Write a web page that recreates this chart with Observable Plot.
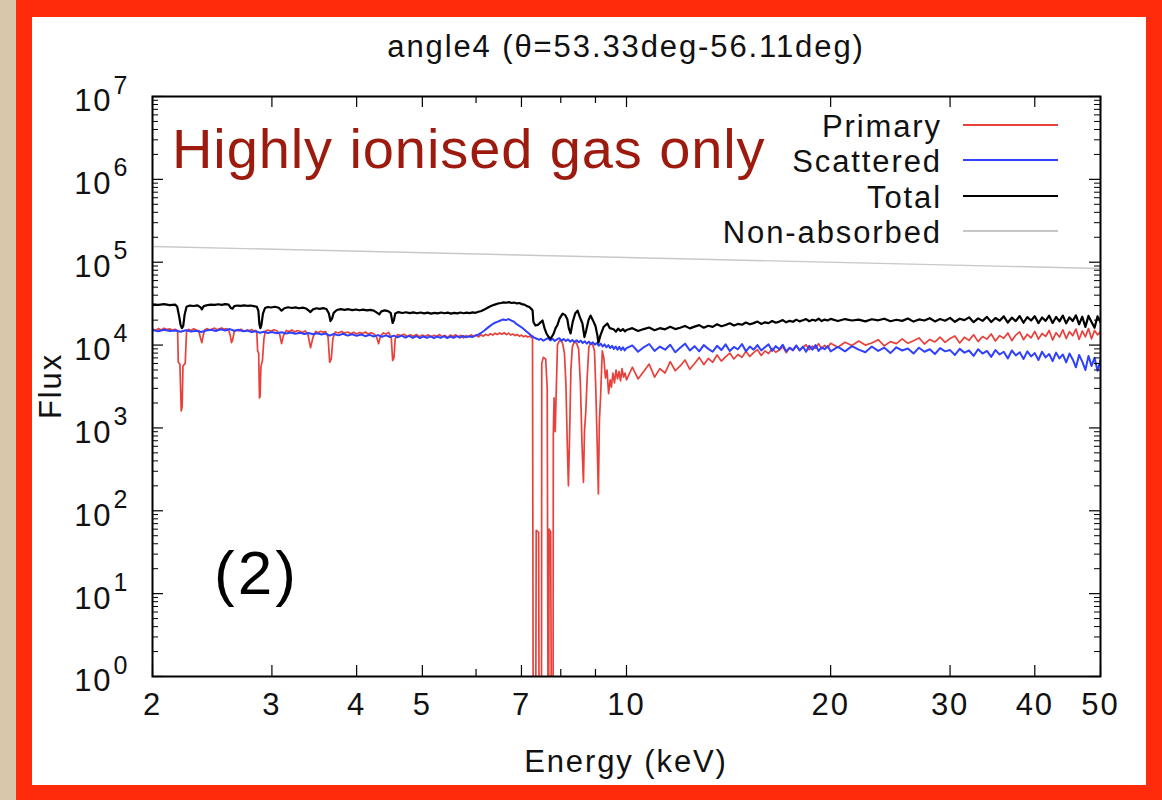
<!DOCTYPE html>
<html>
<head>
<meta charset="utf-8">
<script src="https://cdn.jsdelivr.net/npm/d3@7"></script>
<script src="https://cdn.jsdelivr.net/npm/@observablehq/plot@0.6"></script>
<style>
  html, body { margin: 0; padding: 0; }
  body { width: 1162px; height: 800px; overflow: hidden; background: #d8c7aa; position: relative;
         font-family: "Liberation Sans", Arial, Helvetica, sans-serif; }
  #frame { position: absolute; left: 16px; top: 0; width: 1146px; height: 800px; background: #ff2b0a; }
  #panel { position: absolute; left: 32px; top: 17px; width: 1114px; height: 768px; background: #ffffff; }
  #panel svg text { letter-spacing: 1.9px; }
  #overlay { position: absolute; left: 0; top: 0; pointer-events: none; }
  #overlay text.g { letter-spacing: 1.9px; }
</style>
</head>
<body>
<div id="frame"></div>
<div id="panel"></div>
<svg id="overlay" width="1162" height="800"></svg>
<script>
// ---------------- data ----------------
const titleText = "angle4 (θ=53.33deg-56.11deg)";
const xLabel = "Energy (keV)";
const yLabel = "Flux";
const annotation = "Highly ionised gas only";
const panelTag = "(2)";
const seriesNames = ["Primary", "Scattered", "Total", "Non-absorbed"];
const seriesColors = ["#e8413b", "#3040ff", "#000000", "#c8c8c8"];

const xTickLabels = [2, 3, 4, 5, 7, 10, 20, 30, 40, 50];
const xMinorTicks = [6, 8, 9];
const yMajorTicks = [1, 10, 100, 1e3, 1e4, 1e5, 1e6, 1e7];

// [Energy keV, Flux]
const primary = [
 [2.00,1.56e4],[2.02,1.50e4],[2.04,1.58e4],[2.06,1.52e4],[2.08,1.60e4],[2.10,1.54e4],[2.12,1.57e4],[2.14,1.51e4],[2.16,1.55e4],
 [2.178,1.50e4],[2.183,6.2e3],[2.195,5.9e3],[2.205,1.6e3],[2.212,1.8e3],[2.218,5.6e3],[2.235,6.0e3],[2.245,1.45e4],
 [2.26,1.55e4],[2.28,1.50e4],[2.30,1.57e4],[2.32,1.52e4],[2.34,1.49e4],[2.355,1.20e4],[2.365,1.07e4],[2.375,1.30e4],
 [2.39,1.53e4],[2.41,1.58e4],[2.43,1.51e4],[2.45,1.56e4],[2.47,1.60e4],[2.49,1.53e4],[2.51,1.57e4],[2.53,1.61e4],
 [2.55,1.55e4],[2.57,1.58e4],[2.59,1.52e4],[2.605,1.30e4],[2.615,1.07e4],[2.625,1.15e4],[2.64,1.45e4],[2.66,1.52e4],
 [2.68,1.48e4],[2.70,1.55e4],[2.72,1.50e4],[2.74,1.46e4],[2.76,1.52e4],[2.78,1.49e4],[2.80,1.54e4],[2.82,1.47e4],[2.84,1.50e4],
 [2.85,1.45e4],[2.858,8.5e3],[2.868,8.0e3],[2.876,2.3e3],[2.882,2.4e3],[2.89,5.5e3],[2.905,6.5e3],[2.92,1.20e4],[2.935,1.48e4],
 [2.96,1.52e4],[2.99,1.47e4],[3.02,1.53e4],[3.05,1.49e4],[3.08,1.35e4],[3.10,1.04e4],[3.12,1.30e4],[3.15,1.50e4],
 [3.18,1.46e4],[3.21,1.52e4],[3.24,1.44e4],[3.27,1.50e4],[3.30,1.47e4],[3.33,1.42e4],[3.36,1.48e4],[3.39,1.35e4],
 [3.42,9.3e3],[3.45,1.25e4],[3.48,1.46e4],[3.51,1.41e4],[3.54,1.47e4],[3.57,1.43e4],[3.60,1.45e4],[3.63,1.25e4],
 [3.65,6.2e3],[3.67,6.8e3],[3.69,1.20e4],[3.72,1.44e4],[3.76,1.40e4],[3.80,1.46e4],[3.84,1.39e4],[3.88,1.44e4],
 [3.92,1.37e4],[3.96,1.43e4],[4.00,1.36e4],[4.04,1.42e4],[4.08,1.38e4],[4.12,1.44e4],[4.16,1.36e4],[4.20,1.41e4],
 [4.24,1.37e4],[4.28,1.25e4],[4.31,1.04e4],[4.34,1.30e4],[4.38,1.40e4],[4.42,1.36e4],[4.46,1.42e4],[4.50,1.20e4],
 [4.52,6.5e3],[4.54,7.0e3],[4.56,1.20e4],[4.60,1.34e4],[4.65,1.30e4],[4.70,1.35e4],[4.75,1.27e4],[4.80,1.33e4],
 [4.85,1.28e4],[4.90,1.34e4],[4.95,1.26e4],[5.00,1.32e4],[5.05,1.27e4],[5.10,1.33e4],[5.15,1.25e4],[5.20,1.31e4],
 [5.25,1.27e4],[5.30,1.34e4],[5.35,1.26e4],[5.40,1.31e4],[5.45,1.24e4],[5.50,1.32e4],[5.55,1.27e4],[5.60,1.33e4],
 [5.65,1.26e4],[5.70,1.31e4],[5.75,1.22e4],[5.80,1.30e4],[5.85,1.26e4],[5.90,1.33e4],[5.95,1.27e4],[6.00,1.32e4],
 [6.05,1.26e4],[6.10,1.33e4],[6.15,1.28e4],[6.20,1.35e4],[6.25,1.30e4],[6.30,1.37e4],[6.35,1.32e4],[6.40,1.39e4],
 [6.45,1.34e4],[6.50,1.40e4],[6.55,1.35e4],[6.60,1.41e4],[6.65,1.34e4],[6.70,1.39e4],[6.75,1.32e4],[6.80,1.36e4],
 [6.85,1.30e4],[6.90,1.34e4],[6.95,1.28e4],[7.00,1.32e4],[7.05,1.26e4],[7.10,1.30e4],[7.15,1.25e4],[7.20,1.28e4],[7.25,1.23e4],
 [7.268,1.20e4],[7.29,0.01],[7.34,0.01],[7.36,58],[7.42,55],[7.44,0.01],[7.49,0.01],[7.50,6.0e3],[7.54,7.1e3],[7.60,6.8e3],
 [7.64,3.0e3],[7.67,0.01],[7.69,60],[7.73,56],[7.76,0.01],[7.79,0.01],[7.80,860],[7.82,2.3e3],[7.85,900],[7.88,3.0e3],
 [7.91,1.0e4],[7.95,1.10e4],[8.00,1.15e4],[8.05,1.05e4],[8.10,8.0e3],[8.14,3.5e3],[8.18,600],[8.21,200],[8.24,700],
 [8.28,5.0e3],[8.32,9.5e3],[8.38,1.10e4],[8.44,1.05e4],[8.50,9.0e3],[8.55,3.5e3],[8.60,600],[8.64,220],[8.67,900],
 [8.71,1.6e3],[8.75,4.0e3],[8.80,9.5e3],[8.86,1.05e4],[8.92,1.0e4],[8.97,8.5e3],[9.01,3.0e3],[9.05,700],[9.09,160],
 [9.12,1.2e3],[9.16,2.5e3],[9.21,8.5e3],[9.26,7.0e3],[9.31,4.0e3],[9.36,5.0e3],[9.41,2.6e3],[9.46,3.8e3],[9.50,3.1e3],
 [9.55,4.6e3],[9.60,3.5e3],[9.65,5.0e3],[9.70,3.9e3],[9.75,4.8e3],[9.80,3.7e3],[9.85,5.2e3],[9.90,4.1e3],[9.95,4.6e3],[10.0,3.8e3],
 [10.2,5.4e3],[10.4,3.9e3],[10.6,4.8e3],[10.8,5.9e3],[11.0,4.1e3],[11.2,5.2e3],[11.4,4.6e3],[11.6,6.3e3],[11.8,4.9e3],[12.0,5.6e3],
 [12.2,6.6e3],[12.4,5.1e3],[12.6,6.0e3],[12.8,7.1e3],[13.0,5.8e3],[13.2,6.9e3],[13.4,6.2e3],[13.6,7.6e3],[13.8,6.4e3],[14.0,7.2e3],
 [14.2,8.0e3],[14.4,6.8e3],[14.6,7.7e3],[14.8,7.1e3],[15.0,8.4e3],[15.2,7.3e3],[15.4,8.1e3],[15.6,8.8e3],[15.8,7.5e3],[16.0,8.5e3],
 [16.2,7.9e3],[16.4,9.1e3],[16.6,8.2e3],[16.8,8.7e3],[17.0,9.5e3],[17.2,8.1e3],[17.4,9.2e3],[17.6,8.6e3],[17.8,9.8e3],[18.0,8.7e3],
 [18.2,9.4e3],[18.4,1.01e4],[18.6,8.8e3],[18.8,9.7e3],[19.0,9.1e3],[19.2,1.04e4],[19.4,9.0e3],[19.6,9.9e3],[19.8,9.3e3],[20.0,1.05e4],
 [20.5,9.4e3],[21.0,1.08e4],[21.5,9.9e3],[22.0,1.12e4],[22.5,1.0e4],[23.0,1.06e4],[23.5,1.16e4],[24.0,9.8e3],[24.5,1.10e4],[25.0,1.04e4],
 [25.5,1.19e4],[26.0,1.05e4],[26.5,1.13e4],[27.0,1.22e4],[27.5,1.03e4],[28.0,1.17e4],[28.5,1.09e4],[29.0,1.25e4],[29.5,1.08e4],[30.0,1.20e4],
 [30.5,1.29e4],[31.0,1.06e4],[31.5,1.24e4],[32.0,1.14e4],[32.5,1.33e4],[33.0,1.10e4],[33.5,1.27e4],[34.0,1.18e4],[34.5,1.36e4],[35.0,1.12e4],
 [35.5,1.30e4],[36.0,1.21e4],[36.5,1.40e4],[37.0,1.13e4],[37.5,1.32e4],[38.0,1.44e4],[38.5,1.16e4],[39.0,1.35e4],[39.5,1.22e4],[40.0,1.46e4],
 [40.5,1.18e4],[41.0,1.38e4],[41.5,1.27e4],[42.0,1.50e4],[42.5,1.15e4],[43.0,1.41e4],[43.5,1.25e4],[44.0,1.53e4],[44.5,1.20e4],[45.0,1.45e4],
 [45.5,1.30e4],[46.0,1.56e4],[46.5,1.17e4],[47.0,1.48e4],[47.5,1.26e4],[48.0,1.58e4],[48.5,1.19e4],[49.0,1.50e4],[49.5,1.33e4],[50.0,1.45e4]
];

const scattered = [
 [2.00,1.52e4],[2.04,1.47e4],[2.08,1.53e4],[2.12,1.48e4],[2.16,1.50e4],[2.20,1.45e4],[2.24,1.51e4],[2.28,1.46e4],[2.32,1.49e4],
 [2.36,1.44e4],[2.40,1.50e4],[2.44,1.53e4],[2.48,1.48e4],[2.52,1.55e4],[2.56,1.50e4],[2.60,1.56e4],[2.64,1.49e4],[2.68,1.53e4],
 [2.72,1.47e4],[2.76,1.50e4],[2.80,1.44e4],[2.84,1.47e4],[2.88,1.41e4],[2.92,1.45e4],[2.96,1.40e4],[3.00,1.44e4],[3.05,1.39e4],
 [3.10,1.43e4],[3.15,1.38e4],[3.20,1.42e4],[3.25,1.37e4],[3.30,1.41e4],[3.35,1.36e4],[3.40,1.40e4],[3.45,1.35e4],[3.50,1.39e4],
 [3.55,1.34e4],[3.60,1.38e4],[3.65,1.30e4],[3.70,1.36e4],[3.76,1.31e4],[3.82,1.37e4],[3.88,1.30e4],[3.94,1.35e4],[4.00,1.29e4],
 [4.06,1.34e4],[4.12,1.28e4],[4.18,1.33e4],[4.24,1.27e4],[4.30,1.32e4],[4.36,1.26e4],[4.42,1.31e4],[4.48,1.25e4],[4.54,1.30e4],
 [4.60,1.24e4],[4.66,1.30e4],[4.72,1.23e4],[4.78,1.29e4],[4.84,1.22e4],[4.90,1.28e4],[4.96,1.21e4],[5.02,1.27e4],[5.08,1.22e4],
 [5.14,1.28e4],[5.20,1.21e4],[5.26,1.27e4],[5.32,1.22e4],[5.38,1.28e4],[5.44,1.21e4],[5.50,1.27e4],[5.56,1.22e4],[5.62,1.28e4],
 [5.68,1.23e4],[5.74,1.29e4],[5.80,1.24e4],[5.86,1.28e4],[5.92,1.25e4],[5.98,1.30e4],[6.04,1.33e4],[6.10,1.40e4],[6.16,1.48e4],
 [6.22,1.58e4],[6.28,1.68e4],[6.34,1.78e4],[6.40,1.86e4],[6.46,1.92e4],[6.52,1.98e4],[6.58,2.04e4],[6.64,2.00e4],[6.70,2.06e4],
 [6.76,1.98e4],[6.82,1.92e4],[6.88,1.80e4],[6.94,1.72e4],[7.00,1.64e4],[7.06,1.55e4],[7.12,1.46e4],[7.18,1.38e4],[7.24,1.30e4],
 [7.30,1.24e4],[7.36,1.20e4],[7.42,1.16e4],[7.48,1.19e4],[7.54,1.13e4],[7.60,1.17e4],[7.66,1.21e4],[7.72,1.14e4],[7.78,1.19e4],
 [7.84,1.12e4],[7.90,1.17e4],[7.96,1.21e4],[8.02,1.13e4],[8.08,1.18e4],[8.14,1.12e4],[8.20,1.17e4],[8.26,1.10e4],[8.32,1.15e4],
 [8.38,1.09e4],[8.44,1.14e4],[8.50,1.08e4],[8.56,1.13e4],[8.62,1.06e4],[8.68,1.11e4],[8.74,1.04e4],[8.80,1.10e4],[8.86,1.03e4],
 [8.92,1.08e4],[8.98,1.01e4],[9.04,1.06e4],[9.10,9.8e3],[9.16,1.04e4],[9.22,9.6e3],[9.28,1.02e4],[9.34,9.4e3],[9.40,1.0e4],
 [9.46,9.2e3],[9.52,9.8e3],[9.58,9.0e3],[9.64,9.6e3],[9.70,8.8e3],[9.76,9.5e3],[9.82,8.7e3],[9.88,9.4e3],[9.94,8.6e3],[10.0,9.2e3],
 [10.2,9.9e3],[10.4,8.3e3],[10.6,9.4e3],[10.8,1.03e4],[11.0,8.5e3],[11.2,9.6e3],[11.4,8.8e3],[11.6,1.01e4],[11.8,8.2e3],[12.0,9.3e3],
 [12.2,1.04e4],[12.4,8.6e3],[12.6,9.7e3],[12.8,8.4e3],[13.0,1.0e4],[13.2,9.0e3],[13.4,8.3e3],[13.6,9.8e3],[13.8,8.7e3],[14.0,1.02e4],
 [14.2,8.5e3],[14.4,9.5e3],[14.6,8.9e3],[14.8,1.03e4],[15.0,8.4e3],[15.2,9.6e3],[15.4,8.8e3],[15.6,1.0e4],[15.8,8.6e3],[16.0,9.4e3],
 [16.2,1.02e4],[16.4,8.5e3],[16.6,9.7e3],[16.8,8.9e3],[17.0,1.01e4],[17.2,8.4e3],[17.4,9.3e3],[17.6,8.7e3],[17.8,9.9e3],[18.0,8.6e3],
 [18.2,9.6e3],[18.4,8.3e3],[18.6,9.8e3],[18.8,8.8e3],[19.0,1.0e4],[19.2,8.5e3],[19.4,9.4e3],[19.6,8.9e3],[19.8,9.7e3],[20.0,8.4e3],
 [20.5,9.5e3],[21.0,8.4e3],[21.5,9.7e3],[22.0,8.8e3],[22.5,8.2e3],[23.0,9.6e3],[23.5,8.5e3],[24.0,9.3e3],[24.5,8.0e3],[25.0,9.4e3],
 [25.5,8.6e3],[26.0,9.1e3],[26.5,7.9e3],[27.0,9.3e3],[27.5,8.3e3],[28.0,8.9e3],[28.5,7.8e3],[29.0,9.2e3],[29.5,8.4e3],[30.0,8.7e3],
 [30.5,7.6e3],[31.0,9.0e3],[31.5,8.1e3],[32.0,8.6e3],[32.5,7.4e3],[33.0,8.9e3],[33.5,7.9e3],[34.0,8.5e3],[34.5,7.2e3],[35.0,8.7e3],
 [35.5,7.7e3],[36.0,8.3e3],[36.5,6.9e3],[37.0,8.6e3],[37.5,7.5e3],[38.0,8.2e3],[38.5,6.8e3],[39.0,8.4e3],[39.5,7.3e3],[40.0,8.0e3],
 [40.5,6.6e3],[41.0,8.3e3],[41.5,7.1e3],[42.0,7.8e3],[42.5,6.4e3],[43.0,8.1e3],[43.5,6.9e3],[44.0,7.7e3],[44.5,6.2e3],[45.0,7.9e3],
 [45.5,6.7e3],[46.0,5.4e3],[46.5,7.6e3],[47.0,6.3e3],[47.5,5.0e3],[48.0,7.4e3],[48.5,5.6e3],[49.0,7.0e3],[49.5,4.9e3],[50.0,6.6e3]
];

const total = [
 [2.00,3.10e4],[2.04,3.05e4],[2.08,3.12e4],[2.12,3.04e4],[2.16,3.08e4],[2.175,2.90e4],[2.19,2.20e4],[2.20,1.75e4],[2.21,1.60e4],
 [2.22,1.70e4],[2.23,2.30e4],[2.245,2.90e4],[2.27,3.00e4],[2.30,2.96e4],[2.33,3.02e4],[2.355,2.85e4],[2.365,2.70e4],[2.38,2.95e4],
 [2.41,3.03e4],[2.44,3.08e4],[2.47,3.05e4],[2.50,3.11e4],[2.53,3.06e4],[2.56,3.12e4],[2.59,3.07e4],[2.61,2.80e4],[2.625,2.75e4],
 [2.64,2.95e4],[2.67,3.00e4],[2.70,2.97e4],[2.73,3.02e4],[2.76,2.98e4],[2.79,3.00e4],[2.82,2.95e4],[2.85,2.90e4],[2.865,2.60e4],
 [2.875,1.80e4],[2.885,1.60e4],[2.895,1.75e4],[2.91,2.40e4],[2.93,2.80e4],[2.96,2.88e4],[2.99,2.84e4],[3.03,2.90e4],[3.07,2.82e4],
 [3.10,2.60e4],[3.13,2.78e4],[3.17,2.86e4],[3.21,2.80e4],[3.25,2.85e4],[3.29,2.78e4],[3.33,2.83e4],[3.37,2.76e4],[3.40,2.60e4],
 [3.42,2.50e4],[3.45,2.70e4],[3.49,2.78e4],[3.53,2.73e4],[3.57,2.79e4],[3.61,2.72e4],[3.64,2.40e4],[3.66,1.95e4],[3.68,2.10e4],
 [3.70,2.45e4],[3.74,2.65e4],[3.79,2.72e4],[3.84,2.66e4],[3.89,2.71e4],[3.94,2.64e4],[3.99,2.69e4],[4.04,2.63e4],[4.09,2.68e4],
 [4.14,2.62e4],[4.19,2.66e4],[4.24,2.60e4],[4.29,2.45e4],[4.32,2.35e4],[4.35,2.55e4],[4.40,2.62e4],[4.45,2.57e4],[4.49,2.45e4],
 [4.52,1.85e4],[4.54,2.00e4],[4.56,2.40e4],[4.61,2.50e4],[4.67,2.44e4],[4.73,2.49e4],[4.79,2.43e4],[4.85,2.48e4],[4.91,2.42e4],
 [4.97,2.47e4],[5.03,2.41e4],[5.09,2.46e4],[5.15,2.40e4],[5.21,2.45e4],[5.27,2.41e4],[5.33,2.47e4],[5.39,2.42e4],[5.45,2.46e4],
 [5.51,2.40e4],[5.57,2.45e4],[5.63,2.41e4],[5.69,2.47e4],[5.75,2.42e4],[5.81,2.46e4],[5.87,2.43e4],[5.93,2.48e4],[5.99,2.45e4],
 [6.05,2.52e4],[6.11,2.58e4],[6.17,2.68e4],[6.23,2.80e4],[6.29,2.92e4],[6.35,3.02e4],[6.41,3.10e4],[6.47,3.18e4],[6.53,3.22e4],
 [6.59,3.28e4],[6.65,3.24e4],[6.71,3.30e4],[6.77,3.22e4],[6.83,3.26e4],[6.89,3.18e4],[6.95,3.22e4],[7.01,3.12e4],[7.07,3.08e4],
 [7.13,2.95e4],[7.19,2.88e4],[7.25,2.70e4],[7.27,2.60e4],
 [7.29,1.90e4],[7.34,1.72e4],[7.40,1.75e4],[7.47,1.88e4],[7.52,1.98e4],[7.57,1.60e4],[7.62,1.38e4],[7.68,1.25e4],[7.73,1.20e4],
 [7.80,1.35e4],[7.86,1.60e4],[7.91,1.75e4],[7.97,2.10e4],[8.05,2.40e4],[8.12,2.30e4],[8.18,2.05e4],[8.22,1.60e4],[8.27,1.38e4],
 [8.33,1.90e4],[8.40,2.40e4],[8.47,2.60e4],[8.53,2.20e4],[8.61,1.82e4],[8.67,1.25e4],[8.72,1.50e4],[8.79,2.00e4],[8.85,2.27e4],
 [8.92,2.00e4],[9.00,1.70e4],[9.06,1.30e4],[9.09,1.07e4],[9.15,1.30e4],[9.25,1.65e4],[9.37,1.82e4],[9.45,1.60e4],[9.57,1.55e4],
 [9.65,1.45e4],[9.72,1.58e4],[9.80,1.48e4],[9.88,1.56e4],[9.95,1.46e4],[10.0,1.52e4],
 [10.2,1.60e4],[10.4,1.48e4],[10.6,1.56e4],[10.8,1.63e4],[11.0,1.51e4],[11.2,1.60e4],[11.4,1.55e4],[11.6,1.66e4],[11.8,1.56e4],[12.0,1.62e4],
 [12.2,1.70e4],[12.4,1.59e4],[12.6,1.67e4],[12.8,1.74e4],[13.0,1.62e4],[13.2,1.71e4],[13.4,1.66e4],[13.6,1.78e4],[13.8,1.69e4],[14.0,1.75e4],
 [14.2,1.83e4],[14.4,1.72e4],[14.6,1.80e4],[14.8,1.76e4],[15.0,1.87e4],[15.2,1.78e4],[15.4,1.84e4],[15.6,1.92e4],[15.8,1.80e4],[16.0,1.88e4],
 [16.2,1.84e4],[16.4,1.95e4],[16.6,1.86e4],[16.8,1.92e4],[17.0,2.00e4],[17.2,1.88e4],[17.4,1.96e4],[17.6,1.91e4],[17.8,2.03e4],[18.0,1.93e4],
 [18.2,1.99e4],[18.4,2.06e4],[18.6,1.94e4],[18.8,2.02e4],[19.0,1.97e4],[19.2,2.08e4],[19.4,1.95e4],[19.6,2.03e4],[19.8,1.98e4],[20.0,2.07e4],
 [20.5,1.95e4],[21.0,2.06e4],[21.5,1.98e4],[22.0,2.03e4],[22.5,1.93e4],[23.0,2.05e4],[23.5,1.99e4],[24.0,2.08e4],[24.5,1.94e4],[25.0,2.02e4],
 [25.5,1.96e4],[26.0,2.09e4],[26.5,1.92e4],[27.0,2.04e4],[27.5,1.98e4],[28.0,2.11e4],[28.5,1.93e4],[29.0,2.06e4],[29.5,1.97e4],[30.0,2.13e4],
 [30.5,1.91e4],[31.0,2.08e4],[31.5,2.00e4],[32.0,2.16e4],[32.5,1.89e4],[33.0,2.10e4],[33.5,1.96e4],[34.0,2.19e4],[34.5,1.90e4],[35.0,2.12e4],
 [35.5,1.97e4],[36.0,2.22e4],[36.5,1.87e4],[37.0,2.14e4],[37.5,1.95e4],[38.0,2.24e4],[38.5,1.86e4],[39.0,2.17e4],[39.5,1.98e4],[40.0,2.23e4],
 [40.5,1.84e4],[41.0,2.15e4],[41.5,1.96e4],[42.0,2.26e4],[42.5,1.85e4],[43.0,2.18e4],[43.5,1.93e4],[44.0,2.27e4],[44.5,1.83e4],[45.0,2.16e4],
 [45.5,1.95e4],[46.0,2.28e4],[46.5,1.78e4],[47.0,2.20e4],[47.5,1.66e4],[48.0,2.25e4],[48.5,1.90e4],[49.0,1.62e4],[49.5,2.22e4],[50.0,1.88e4]
];

const nonAbsorbed = [[2, 1.55e5], [10, 1.14e5], [50, 8.4e4]];

// ---------------- chart ----------------
const W = 1114, H = 768, mL = 120, mR = 46, mT = 79, mB = 109;
const innerW = W - mL - mR, innerH = H - mT - mB;
const yMinorTicks = yMajorTicks.slice(0, -1).flatMap(d => [2,3,4,5,6,7,8,9].map(m => d * m));
const series = [primary, scattered, total, nonAbsorbed];
const widths = [1.7, 2.0, 2.2, 1.4];

const lineMarks = [3, 0, 1, 2].map(i =>
  Plot.line(series[i], {x: d => d[0], y: d => d[1], stroke: seriesColors[i], strokeWidth: widths[i], strokeLinejoin: "round", clip: true})
);

const chart = Plot.plot({
  width: W, height: H,
  marginLeft: mL, marginRight: mR, marginTop: mT, marginBottom: mB,
  style: {background: "transparent", fontFamily: "'Liberation Sans', Arial, Helvetica, sans-serif", color: "#000", overflow: "visible"},
  x: {type: "log", domain: [2, 50], axis: null},
  y: {type: "log", domain: [1, 1e7], axis: null},
  marks: [
    ...lineMarks,
    // inward ticks (gnuplot style, mirrored)
    Plot.tickX(xTickLabels, {x: d => d, insetTop: innerH - 11, stroke: "#000", strokeWidth: 1.2}),
    Plot.tickX(xTickLabels, {x: d => d, insetBottom: innerH - 11, stroke: "#000", strokeWidth: 1.2}),
    Plot.tickX(xMinorTicks, {x: d => d, insetTop: innerH - 7, stroke: "#000", strokeWidth: 1.2}),
    Plot.tickX(xMinorTicks, {x: d => d, insetBottom: innerH - 7, stroke: "#000", strokeWidth: 1.2}),
    Plot.tickY(yMajorTicks, {y: d => d, insetRight: innerW - 11, stroke: "#000", strokeWidth: 1.2}),
    Plot.tickY(yMajorTicks, {y: d => d, insetLeft: innerW - 11, stroke: "#000", strokeWidth: 1.2}),
    Plot.tickY(yMinorTicks, {y: d => d, insetRight: innerW - 6, stroke: "#000", strokeWidth: 1}),
    Plot.tickY(yMinorTicks, {y: d => d, insetLeft: innerW - 6, stroke: "#000", strokeWidth: 1}),
    Plot.frame({stroke: "#000", strokeWidth: 2}),
    // tick labels
    Plot.text(xTickLabels, {x: d => d, frameAnchor: "bottom", dy: 38, text: d => String(d), fontSize: 31, fill: "#111"}),
    Plot.text(yMajorTicks, {y: d => d, frameAnchor: "left", dx: -40, dy: 5, textAnchor: "end", text: () => "10", fontSize: 31, fill: "#111"}),
    Plot.text(yMajorTicks, {y: d => d, frameAnchor: "left", dx: -39, dy: -11, textAnchor: "start", text: d => String(Math.round(Math.log10(d))), fontSize: 25, fill: "#111"})
  ]
});
document.getElementById("panel").appendChild(chart);

// ---------------- titles, legend, annotations ----------------
const ov = d3.select("#overlay");
const ff = "'Liberation Sans', Arial, Helvetica, sans-serif";
ov.append("text").attr("class", "g").attr("x", 626).attr("y", 57).attr("text-anchor", "middle")
  .attr("font-family", ff).attr("font-size", 31).attr("fill", "#111").text(titleText);
ov.append("text").attr("class", "g").attr("x", 626).attr("y", 772).attr("text-anchor", "middle")
  .attr("font-family", ff).attr("font-size", 31).attr("fill", "#111").text(xLabel);
ov.append("text").attr("class", "g").attr("transform", "translate(61,386) rotate(-90)").attr("text-anchor", "middle")
  .attr("font-family", ff).attr("font-size", 31).attr("fill", "#111").text(yLabel);
ov.append("text").attr("x", 172).attr("y", 168).attr("font-family", ff).attr("font-size", 56)
  .attr("letter-spacing", "0.9px").attr("fill", "#9d1b0e").text(annotation);
ov.append("text").attr("x", 214).attr("y", 594).attr("font-family", ff).attr("font-size", 62)
  .attr("letter-spacing", "3px").attr("fill", "#000").text(panelTag);

const legendBase = [137, 172, 208, 243];
seriesNames.forEach((name, i) => {
  ov.append("text").attr("class", "g").attr("x", 942).attr("y", legendBase[i]).attr("text-anchor", "end")
    .attr("font-family", ff).attr("font-size", 31).attr("fill", "#111").text(name);
  ov.append("line").attr("x1", 963).attr("x2", 1058).attr("y1", legendBase[i] - 12).attr("y2", legendBase[i] - 12)
    .attr("stroke", seriesColors[i]).attr("stroke-width", 2);
});
</script>
</body>
</html>
